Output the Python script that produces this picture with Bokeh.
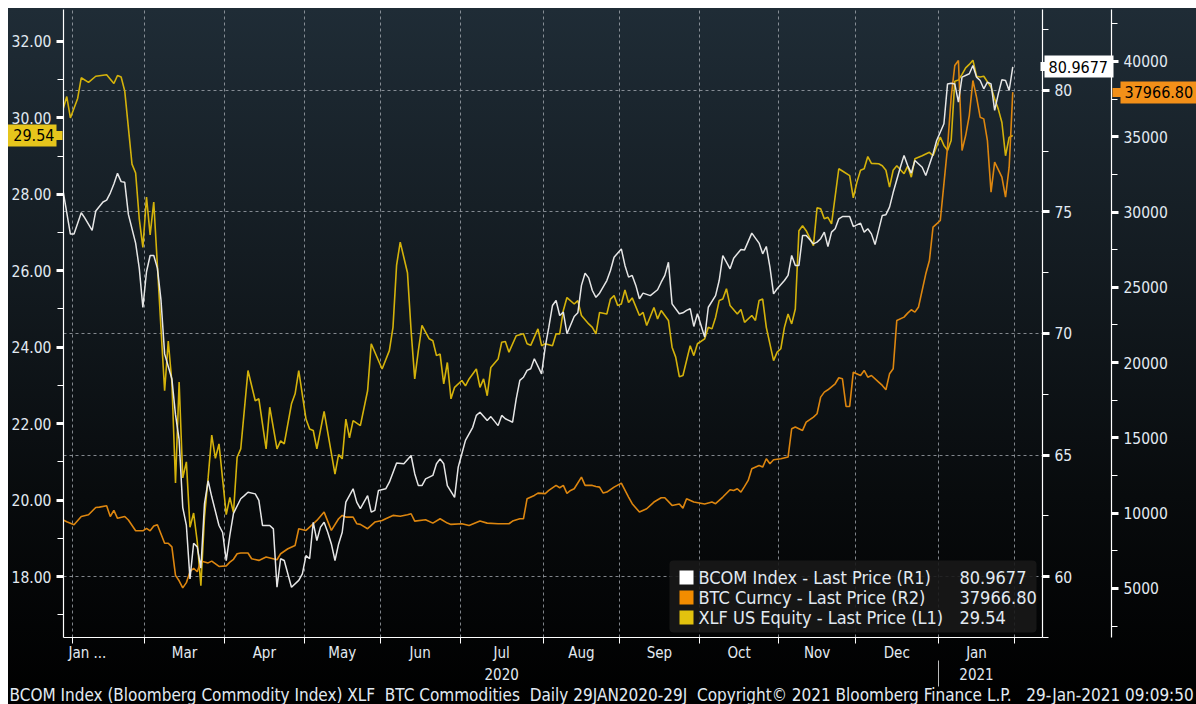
import numpy as np
from bokeh.plotting import figure
from bokeh.models import (Range1d, LinearAxis, FixedTicker, SingleIntervalTicker,
                          NumeralTickFormatter, Grid, Label, BoxAnnotation, Title,
                          ColumnDataSource)
from bokeh.embed import file_html
from bokeh.resources import INLINE

# ---------------- data (x = business-day number since 29 Jan 2020) ----------------
START = "2020-01-29"
MONTH_STARTS = ["2020-02-01", "2020-03-01", "2020-04-01", "2020-05-01", "2020-06-01",
                "2020-07-01", "2020-08-01", "2020-09-01", "2020-10-01", "2020-11-01",
                "2020-12-01", "2021-01-01", "2021-02-01"]
MONTH_LABELS = ["Jan ...", "Mar", "Apr", "May", "Jun", "Jul", "Aug", "Sep", "Oct",
                "Nov", "Dec", "Jan"]
YEAR_LABELS = ["2020", "2021"]

XLF_DAY = [0, 1, 2, 4, 5, 7, 9, 12, 14, 15, 16, 17, 19, 20, 21, 22, 23, 24, 25, 26, 27, 28,
           29, 30, 31, 32, 33, 34, 35, 36, 37, 38, 39, 40, 41, 42, 43, 45, 46, 47, 48, 49,
           51, 53, 54, 56, 57, 59, 60, 61, 63, 64, 65, 67, 68, 69, 70, 72, 75, 76, 77, 78,
           79, 80, 82, 84, 85, 88, 90, 91, 92, 93, 95, 96, 97, 98, 99, 101, 102, 103, 104,
           105, 106, 107, 108, 110, 111, 112, 114, 115, 116, 117, 118, 120, 121, 122, 123,
           125, 127, 128, 129, 131, 132, 133, 135, 136, 137, 138, 139, 141, 142, 143, 145,
           146, 147, 148, 150, 151, 152, 153, 154, 155, 156, 157, 159, 160, 161, 163, 164,
           165, 167, 168, 169, 170, 171, 173, 174, 175, 177, 178, 179, 180, 181, 182, 183,
           184, 186, 187, 188, 190, 191, 192, 193, 194, 196, 197, 198, 199, 200, 201, 202,
           203, 204, 205, 207, 208, 209, 210, 211, 212, 214, 215, 217, 218, 219, 220, 221,
           222, 223, 225, 226, 227, 228, 229, 230, 232, 233, 234, 235, 237, 239, 240, 242,
           243, 244, 245, 246, 247, 248, 249, 250, 251, 252, 253, 254, 256, 257, 258, 259,
           260, 261, 262]
XLF_VAL = [30.23, 30.56, 30.00, 30.51, 31.05, 30.93, 31.09, 31.13, 30.90, 31.11, 31.07, 30.70,
           28.79, 28.56, 27.36, 26.61, 27.93, 26.94, 27.80, 26.15, 24.48, 22.86, 24.16, 23.09,
           20.45, 23.09, 20.58, 21.00, 19.29, 19.66, 18.91, 17.76, 19.56, 20.58, 21.70, 21.09,
           21.47, 19.62, 20.07, 19.67, 21.12, 21.34, 23.39, 22.60, 22.65, 21.34, 22.43, 21.34,
           21.55, 21.47, 22.52, 22.78, 23.39, 22.12, 21.86, 21.82, 21.34, 22.32, 20.68, 21.19,
           21.08, 22.12, 21.63, 22.08, 21.95, 22.86, 24.09, 23.43, 23.91, 24.52, 26.15, 26.75,
           25.95, 24.43, 23.17, 23.91, 24.57, 24.22, 24.17, 23.78, 23.82, 23.04, 23.60, 22.65,
           22.95, 23.13, 22.99, 23.17, 23.43, 22.95, 23.17, 22.73, 23.47, 23.69, 24.13, 24.15,
           23.87, 24.30, 24.35, 24.09, 24.05, 24.48, 24.04, 24.09, 24.04, 24.35, 24.35, 24.96,
           25.30, 25.13, 25.22, 24.83, 24.61, 24.52, 24.35, 24.91, 24.87, 25.26, 25.35, 25.09,
           25.13, 25.50, 25.17, 25.29, 24.83, 24.91, 24.57, 25.04, 24.74, 24.96, 24.70, 24.00,
           23.74, 23.23, 23.26, 24.04, 23.78, 24.09, 24.22, 24.52, 24.48, 24.78, 25.22, 25.26,
           25.53, 25.09, 24.87, 24.99, 24.65, 24.83, 24.70, 25.22, 25.26, 24.52, 23.65, 23.87,
           23.96, 24.52, 24.87, 24.61, 25.00, 27.05, 27.18, 27.05, 26.66, 27.65, 27.62, 27.36,
           27.40, 27.23, 28.67, 28.61, 28.49, 27.91, 28.32, 28.63, 28.67, 28.99, 28.81, 28.80,
           28.75, 28.63, 28.19, 28.63, 28.75, 28.54, 28.74, 28.45, 28.93, 29.01, 29.10, 29.01,
           29.50, 29.28, 29.15, 29.41, 30.96, 30.99, 31.14, 31.31, 31.40, 31.51, 31.09, 31.07,
           31.09, 30.80, 30.50, 30.23, 29.88, 29.01, 29.49, 29.54]

BCOM_DAY = [0, 1, 2, 3, 5, 6, 8, 9, 11, 12, 13, 14, 15, 16, 17, 18, 20, 21, 22, 23, 24, 25,
            26, 27, 28, 30, 31, 32, 33, 34, 35, 36, 37, 38, 39, 40, 41, 43, 44, 45, 46, 47,
            49, 50, 51, 53, 54, 55, 57, 58, 59, 60, 61, 63, 65, 66, 67, 68, 69, 70, 71, 72,
            73, 74, 75, 76, 77, 78, 80, 81, 82, 84, 85, 86, 87, 89, 90, 92, 94, 96, 97, 98,
            99, 100, 102, 103, 104, 105, 106, 108, 109, 110, 111, 113, 114, 115, 117, 118,
            120, 121, 122, 124, 125, 126, 127, 128, 129, 130, 132, 133, 134, 135, 136, 137,
            138, 139, 141, 142, 143, 144, 145, 146, 147, 148, 150, 151, 152, 154, 155, 156,
            157, 158, 159, 160, 162, 164, 165, 166, 167, 168, 170, 171, 172, 173, 174, 175,
            176, 177, 178, 180, 181, 182, 184, 185, 187, 188, 190, 192, 193, 194, 195, 196,
            197, 199, 200, 201, 202, 203, 204, 205, 207, 208, 209, 210, 211, 212, 213, 214,
            215, 217, 218, 220, 221, 222, 223, 224, 226, 227, 228, 229, 231, 232, 233, 234,
            235, 237, 238, 240, 241, 243, 244, 245, 246, 247, 248, 250, 251, 252, 253, 254,
            255, 256, 257, 258, 259, 260, 261, 262]
BCOM_VAL = [75.85, 74.97, 74.09, 74.09, 74.97, 74.75, 74.24, 75.04, 75.41, 75.49, 75.78, 76.15,
            76.59, 76.25, 76.22, 74.90, 73.72, 72.69, 71.07, 72.54, 73.21, 73.21, 72.69, 71.37,
            69.16, 68.13, 66.66, 65.63, 62.84, 62.10, 59.90, 61.37, 61.22, 60.34, 63.00, 63.94,
            63.28, 62.10, 61.81, 60.65, 61.70, 62.60, 63.20, 63.33, 63.47, 63.40, 63.13, 62.10,
            62.10, 61.96, 59.56, 60.73, 60.66, 59.56, 59.84, 60.11, 60.86, 60.73, 62.23, 61.48,
            62.03, 62.23, 61.82, 61.34, 60.66, 61.34, 61.82, 63.06, 63.61, 63.06, 62.79, 63.33,
            62.65, 62.72, 63.54, 63.61, 63.88, 64.67, 64.64, 64.98, 64.23, 63.74, 63.74, 64.02,
            64.16, 64.64, 64.84, 64.64, 63.74, 63.26, 64.50, 65.05, 65.60, 66.14, 66.63, 66.76,
            66.42, 66.58, 66.21, 66.63, 66.49, 66.35, 67.31, 68.07, 68.20, 68.48, 68.55, 68.96,
            68.34, 69.44, 70.26, 71.15, 71.36, 70.74, 70.88, 69.99, 70.70, 70.85, 71.98, 72.48,
            72.29, 71.77, 71.49, 71.66, 72.18, 72.59, 73.14, 73.48, 72.80, 72.32, 72.39, 71.98,
            71.43, 71.66, 71.56, 71.80, 72.11, 72.39, 72.93, 71.22, 70.81, 70.85, 70.95, 71.02,
            70.29, 70.81, 70.33, 69.85, 71.08, 71.56, 72.18, 73.21, 72.66, 73.10, 73.46, 73.44,
            74.13, 73.72, 73.28, 73.58, 72.73, 71.63, 71.84, 72.18, 72.39, 73.21, 72.80, 72.80,
            74.03, 74.03, 73.69, 73.76, 73.90, 74.17, 73.58, 74.17, 74.31, 74.72, 74.81, 74.81,
            74.40, 74.54, 74.17, 74.31, 74.10, 73.66, 74.86, 74.89, 75.20, 75.80, 76.85, 77.33,
            76.91, 76.60, 77.12, 76.84, 76.50, 77.39, 77.94, 78.63, 80.27, 80.30, 80.27, 79.52,
            80.55, 80.69, 81.03, 80.55, 80.41, 80.07, 80.34, 80.27, 79.18, 79.86, 80.44, 80.41,
            80.00, 80.9677]

BTC_DAY = [0, 1, 3, 5, 7, 9, 10, 12, 13, 14, 15, 17, 18, 20, 22, 23, 24, 25, 26, 28, 29, 30,
           31, 32, 33, 34, 35, 36, 37, 38, 40, 41, 43, 45, 46, 47, 48, 49, 51, 52, 54, 56, 59,
           60, 62, 64, 65, 67, 68, 70, 72, 74, 76, 77, 78, 80, 81, 82, 84, 86, 88, 89, 91, 93,
           95, 96, 97, 100, 102, 104, 106, 107, 110, 112, 115, 117, 120, 123, 124, 126, 127,
           128, 130, 131, 133, 134, 136, 137, 138, 139, 140, 141, 143, 144, 146, 147, 148, 149,
           150, 152, 154, 156, 157, 159, 161, 163, 165, 166, 168, 170, 171, 172, 174, 177, 179,
           180, 182, 184, 185, 186, 187, 188, 189, 190, 192, 193, 194, 195, 196, 198, 200, 201,
           202, 204, 205, 207, 208, 209, 210, 211, 213, 214, 215, 216, 217, 218, 220, 221, 222,
           223, 225, 226, 227, 228, 229, 230, 232, 233, 234, 235, 236, 237, 238, 239, 240, 241,
           242, 243, 244, 245, 246, 247, 248, 249, 250, 251, 252, 253, 254, 255, 256, 257, 259,
           260, 261, 262]
BTC_VAL = [9547, 9430, 9237, 9781, 9900, 10378, 10405, 10492, 9781, 10186, 9662, 9781, 9547,
           8832, 8832, 8998, 8832, 9144, 9237, 8002, 8002, 7765, 5870, 5512, 5040, 5390, 6109,
           6346, 6109, 6820, 6700, 6820, 6465, 6500, 6753, 6939, 7310, 7355, 7355, 6978, 6866,
           7089, 6911, 7310, 7642, 7862, 8971, 8858, 9079, 9522, 10075, 8858, 9633, 9854, 9743,
           9743, 9301, 9260, 8971, 9412, 9522, 9633, 9854, 9800, 9900, 9964, 9476, 9564, 9343,
           9631, 9343, 9256, 9299, 9190, 9476, 9343, 9299, 9299, 9476, 9631, 9631, 10963, 11183,
           11337, 11300, 11514, 11846, 11690, 11846, 11320, 11514, 11625, 12398, 11846, 11846,
           11780, 11735, 11337, 11404, 11735, 12000, 11073, 10631, 10075, 10298, 10741, 11030,
           11030, 10518, 10607, 10340, 10963, 10741, 10607, 10741, 10631, 11073, 11560, 11514,
           11625, 11404, 11780, 12178, 12954, 13175, 13064, 13618, 13285, 13550, 13618, 13728,
           15610, 15721, 15498, 16051, 16383, 16604, 17711, 18043, 18198, 18597, 18996, 18929,
           17092, 17092, 19368, 19147, 19479, 19036, 19147, 18707, 18486, 18198, 19258, 19589,
           22802, 23024, 23290, 23512, 23357, 23700, 24800, 25900, 26786, 28998, 29219, 29440,
           31877, 34309, 37630, 39734, 40066, 34088, 35084, 36412, 38738, 37630, 36301, 36190,
           34752, 31322, 33313, 32317, 30990, 32981, 37966.80]

SERIES_NAMES = ["BCOM Index - Last Price (R1)", "BTC Curncy - Last Price (R2)",
                "XLF US Equity - Last Price (L1)"]
LAST_VALUES = ["80.9677", "37966.80", "29.54"]
FOOTER = ("BCOM Index (Bloomberg Commodity Index) XLF\u00a0 BTC Commodities\u00a0 Daily "
          "29JAN2020-29J\u00a0 Copyright\u00a9 2021 Bloomberg Finance L.P.\u00a0\u00a0 "
          "29-Jan-2021 09:09:50")

# ---------------- style ----------------
FONT = "'DejaVu Sans Condensed', 'DejaVu Sans', sans-serif"
TXT = "#e2eaf2"
C_BCOM, C_BTC, C_XLF = "#e6e6e6", "#dd860f", "#d4b20b"
SWATCH = ["#ffffff", "#f28c00", "#e2c20e"]
TAG = {"xlf": "#e6c51c", "bcom": "#ffffff", "btc": "#f39019"}
GRID = "#a9afb5"

boundaries = np.busday_count(START, MONTH_STARTS) - 0.5
mids = [(boundaries[k] + boundaries[k + 1]) / 2 for k in range(len(boundaries) - 1)]
label_pos = [float(boundaries[0] + 4.2)] + [float(m) for m in mids[1:]]
year_pos = [float(mids[5]), float(mids[11])]

p = figure(width=1188, height=696, output_backend="svg", toolbar_location=None,
           x_axis_type=None, y_axis_type=None,
           x_range=Range1d(0.1, 270.2), y_range=Range1d(16.404, 32.837),
           min_border_left=54, min_border_right=154, min_border_top=1, min_border_bottom=64)
p.extra_y_ranges = {"bcom": Range1d(57.49, 83.333), "btc": Range1d(1745.7, 43453.5)}
p.outline_line_color = None
p.background_fill_alpha = 0
p.border_fill_alpha = 0
p.styles = {"margin": "8px 0 0 8px",
            "background": "linear-gradient(180deg, #1f2c36 0%, #141c22 35%, #080b0d 70%, #000000 100%)"}


def style_axis(ax, size="15.5px"):
    ax.axis_label = None
    ax.axis_line_color = "white"
    ax.axis_line_width = 1.2
    ax.major_tick_line_color = "white"
    ax.major_tick_line_width = 3
    ax.major_tick_in = 0
    ax.major_tick_out = 7
    ax.minor_tick_line_color = "white"
    ax.minor_tick_line_width = 1
    ax.minor_tick_in = 0
    ax.minor_tick_out = 6
    ax.major_label_text_color = TXT
    ax.major_label_text_font = FONT
    ax.major_label_text_font_size = size
    ax.major_label_standoff = 5


def tag_axis(value, text, color, tick_in, tick_out, standoff, nub_in, range_name="default"):
    """A one-tick axis whose thick tick is the coloured last-value tag."""
    ax = LinearAxis(y_range_name=range_name,
                    ticker=FixedTicker(ticks=[value], minor_ticks=[value]),
                    major_label_overrides={value: text})
    ax.axis_label = None
    ax.axis_line_color = None
    ax.major_tick_line_color = color
    ax.major_tick_line_width = 22
    ax.major_tick_in = tick_in
    ax.major_tick_out = tick_out
    ax.minor_tick_line_color = color
    ax.minor_tick_line_width = 9
    ax.minor_tick_in = nub_in
    ax.minor_tick_out = 0
    ax.major_label_text_color = "#000000"
    ax.major_label_text_font = FONT
    ax.major_label_text_font_size = "16px"
    ax.major_label_standoff = standoff
    return ax


left = LinearAxis(ticker=SingleIntervalTicker(interval=2, num_minor_ticks=2),
                  formatter=NumeralTickFormatter(format="0.00"))
style_axis(left)
p.add_layout(left, "left")
p.add_layout(tag_axis(XLF_VAL[-1], LAST_VALUES[2], TAG["xlf"], 48, 2, -48, 54), "left")

r1 = LinearAxis(y_range_name="bcom", ticker=SingleIntervalTicker(interval=5, num_minor_ticks=2),
                formatter=NumeralTickFormatter(format="0"))
style_axis(r1)
p.add_layout(r1, "right")
p.add_layout(tag_axis(BCOM_VAL[-1], LAST_VALUES[0], TAG["bcom"], 31, 38, -65, 35, "bcom"), "right")

r2 = LinearAxis(y_range_name="btc", ticker=SingleIntervalTicker(interval=5000, num_minor_ticks=2),
                formatter=NumeralTickFormatter(format="0"))
style_axis(r2)
p.add_layout(r2, "right")
p.add_layout(tag_axis(BTC_VAL[-1], LAST_VALUES[1], TAG["btc"], 50, 28, -74, 58, "btc"), "right")

months = LinearAxis(ticker=FixedTicker(ticks=label_pos, minor_ticks=[float(b) for b in boundaries]),
                    major_label_overrides={pos: lab for pos, lab in zip(label_pos, MONTH_LABELS)})
style_axis(months, "15px")
months.major_tick_line_color = None
months.major_tick_out = 4
months.major_label_standoff = 0
p.add_layout(months, "below")

years = LinearAxis(ticker=FixedTicker(ticks=year_pos, minor_ticks=[float(boundaries[11])]),
                   major_label_overrides={pos: lab for pos, lab in zip(year_pos, YEAR_LABELS)})
style_axis(years, "15px")
years.axis_line_color = None
years.major_tick_line_color = None
years.major_tick_out = 0
years.minor_tick_line_color = "#bbbbbb"
years.minor_tick_in = 4
years.minor_tick_out = 22
years.major_label_standoff = -19
p.add_layout(years, "below")

p.add_layout(Title(text=FOOTER, align="left", offset=-54, standoff=0, text_color=TXT,
                   text_font=FONT, text_font_size="17px", text_font_style="normal"), "below")

hgrid = Grid(dimension=1, y_range_name="bcom", ticker=SingleIntervalTicker(interval=5),
             grid_line_color=GRID, grid_line_dash="3 3", grid_line_alpha=0.75)
vgrid = Grid(dimension=0, ticker=FixedTicker(ticks=[float(b) for b in boundaries]),
             grid_line_color=GRID, grid_line_dash="3 3", grid_line_alpha=0.75)
p.add_layout(hgrid)
p.add_layout(vgrid)

p.line("x", "y", source=ColumnDataSource(dict(x=XLF_DAY, y=XLF_VAL)), color=C_XLF, line_width=1.6)
p.line("x", "y", source=ColumnDataSource(dict(x=BTC_DAY, y=BTC_VAL)), color=C_BTC, line_width=1.6,
       y_range_name="btc")
p.line("x", "y", source=ColumnDataSource(dict(x=BCOM_DAY, y=BCOM_VAL)), color=C_BCOM, line_width=1.5,
       y_range_name="bcom")

# legend (drawn by hand so that the values form their own column)
p.add_layout(BoxAnnotation(left=606, right=973, bottom=5, top=77, left_units="screen",
                           right_units="screen", bottom_units="screen", top_units="screen",
                           fill_color="#181818", fill_alpha=0.9, line_color=None,
                           border_radius=4))
for k, (name, val, col) in enumerate(zip(SERIES_NAMES, LAST_VALUES, SWATCH)):
    cy = 60 - 20 * k
    p.add_layout(BoxAnnotation(left=616, right=630, bottom=cy - 7, top=cy + 7,
                               left_units="screen", right_units="screen",
                               bottom_units="screen", top_units="screen",
                               fill_color=col, fill_alpha=1, line_color=None))
    p.add_layout(Label(x=635, y=cy, x_units="screen", y_units="screen", text=name,
                       text_baseline="middle", text_color=TXT, text_font=FONT,
                       text_font_size="18px"))
    p.add_layout(Label(x=896, y=cy, x_units="screen", y_units="screen", text=val,
                       text_baseline="middle", text_color=TXT, text_font=FONT,
                       text_font_size="18px"))

open("out.html", "w").write(file_html(p, INLINE))
